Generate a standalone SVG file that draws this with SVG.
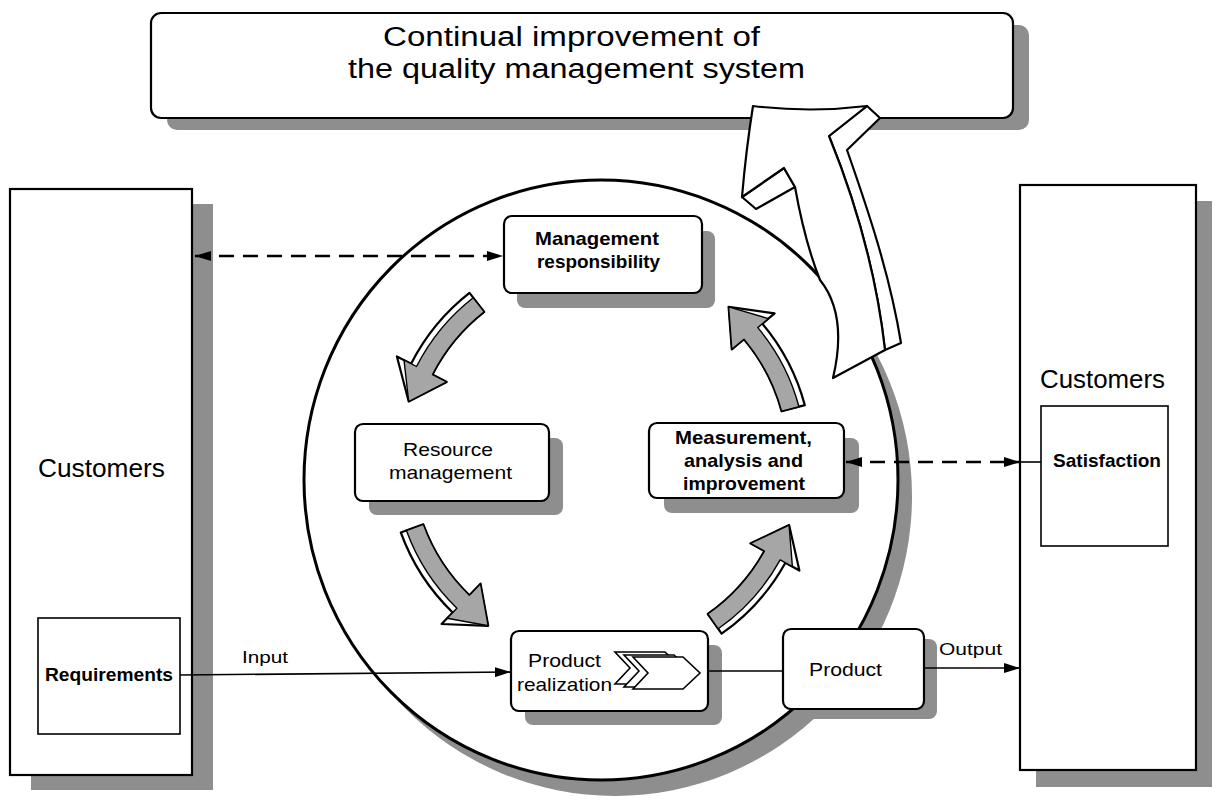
<svg xmlns="http://www.w3.org/2000/svg" width="1216" height="806" viewBox="0 0 1216 806">
<style>
.t{font-family:"Liberation Sans",Arial,Helvetica,sans-serif;fill:#000}
.b{font-weight:bold}
.box{fill:#fff;stroke:#000;stroke-width:2.2}
.thin{fill:#fff;stroke:#000;stroke-width:1.6}
.sh{fill:#8e8e8e}
.lbl{font-size:19px}
.ln{stroke:#000;stroke-width:1.6;fill:none}
.dash{stroke:#000;stroke-width:2.6;fill:none;stroke-dasharray:15 9}
.arw{fill:#fff;stroke:#000;stroke-width:2.2;stroke-linejoin:round}
.arg{fill:#a6a6a6;stroke:#000;stroke-width:1.4;stroke-linejoin:round}
.big{fill:#fff;stroke:#000;stroke-width:2.2;stroke-linejoin:round}
</style>
<defs>
<marker id="ah" viewBox="0 0 16 10" refX="16" refY="5" markerWidth="16" markerHeight="10" markerUnits="userSpaceOnUse" orient="auto-start-reverse">
<path d="M0,0 L16,5 L0,10 Z" fill="#000"/>
</marker>
</defs>

<g id="improvement-box">
<rect class="sh" x="167" y="25" width="862" height="105" rx="10"/>
<rect class="box" x="151" y="13" width="862" height="105" rx="10"/>
<text class="t" x="383" y="46" font-size="27" textLength="377" lengthAdjust="spacingAndGlyphs">Continual improvement of</text>
<text class="t" x="348" y="78" font-size="27" textLength="457" lengthAdjust="spacingAndGlyphs">the quality management system</text>
</g>

<g id="customers-left">
<rect class="sh" x="31" y="204" width="182" height="586"/>
<rect class="box" x="10" y="189" width="182" height="586"/>
<text class="t" x="38" y="477" font-size="25" textLength="127" lengthAdjust="spacingAndGlyphs">Customers</text>
</g>
<g id="requirements">
<rect class="thin" x="38" y="618" width="142" height="116"/>
<text class="t b lbl" x="45" y="681" textLength="128" lengthAdjust="spacingAndGlyphs">Requirements</text>
</g>

<g id="customers-right">
<rect class="sh" x="1036" y="201" width="176" height="586"/>
<rect class="box" x="1020" y="185" width="176" height="585"/>
<text class="t" x="1040" y="388" font-size="25" textLength="125" lengthAdjust="spacingAndGlyphs">Customers</text>
</g>
<g id="satisfaction">
<rect class="thin" x="1041" y="406" width="127" height="140"/>
<text class="t b lbl" x="1053" y="467" textLength="108" lengthAdjust="spacingAndGlyphs">Satisfaction</text>
</g>

<g id="qms-circle">
<ellipse class="sh" cx="615" cy="496" rx="297" ry="300"/>
<ellipse cx="601" cy="480" rx="297" ry="300" fill="#fff" stroke="#000" stroke-width="3"/>
</g>

<g id="management-responsibility">
<rect class="sh" x="517" y="231" width="198" height="77" rx="8"/>
<rect class="box" x="504" y="216" width="198" height="77" rx="8"/>
<text class="t b lbl" x="535" y="245" textLength="124" lengthAdjust="spacingAndGlyphs">Management</text>
<text class="t b lbl" x="537" y="268" textLength="123" lengthAdjust="spacingAndGlyphs">responsibility</text>
</g>

<g id="resource-management">
<rect class="sh" x="369" y="438" width="194" height="77" rx="8"/>
<rect class="box" x="355" y="424" width="194" height="77" rx="8"/>
<text class="t lbl" x="403" y="456" textLength="90" lengthAdjust="spacingAndGlyphs">Resource</text>
<text class="t lbl" x="389" y="479" textLength="123" lengthAdjust="spacingAndGlyphs">management</text>
</g>

<g id="measurement">
<rect class="sh" x="664" y="438" width="195" height="75" rx="8"/>
<rect class="box" x="649" y="423" width="195" height="75" rx="8"/>
<text class="t b lbl" x="675" y="444" textLength="137" lengthAdjust="spacingAndGlyphs">Measurement,</text>
<text class="t b lbl" x="684" y="467" textLength="119" lengthAdjust="spacingAndGlyphs">analysis and</text>
<text class="t b lbl" x="683" y="490" textLength="122" lengthAdjust="spacingAndGlyphs">improvement</text>
</g>

<g id="product-realization">
<rect class="sh" x="525" y="645" width="197" height="80" rx="8"/>
<rect class="box" x="511" y="631" width="197" height="80" rx="8"/>
<text class="t lbl" x="528" y="667" textLength="73" lengthAdjust="spacingAndGlyphs">Product</text>
<text class="t lbl" x="517" y="691" textLength="95" lengthAdjust="spacingAndGlyphs">realization</text>
<path class="thin" d="M615,652 L665,652 L682,668 L665,684 L615,684 L630,668 Z"/>
<path class="thin" d="M624,655 L674,655 L691,671 L674,687 L624,687 L639,671 Z"/>
<path class="thin" d="M633,657 L683,657 L700,673 L683,689 L633,689 L648,673 Z"/>
</g>

<g id="product">
<rect class="sh" x="796" y="639" width="141" height="80" rx="8"/>
<rect class="box" x="783" y="629" width="141" height="80" rx="8"/>
<text class="t lbl" x="809" y="676" textLength="73" lengthAdjust="spacingAndGlyphs">Product</text>
</g>

<g id="connectors">
<path class="arw" d="M469.5,292.9 A212,212 0 0 0 411.1,363.8 L396.9,356.5 L408.7,401.5 L446.7,381.9 L432.5,374.6 A188,188 0 0 1 484.2,311.9 Z"/>
<path class="arg" d="M473.2,297.7 A206,206 0 0 0 416.5,366.5 L404.0,360.1 L408.7,401.5 L446.7,381.9 L432.5,374.6 A188,188 0 0 1 484.2,311.9 Z"/>

<path class="arw" d="M400.8,532.5 A212,212 0 0 0 452.7,612.5 L441.6,624.0 L488.2,625.8 L480.5,583.7 L469.4,595.2 A188,188 0 0 1 423.3,524.3 Z"/>
<path class="arg" d="M406.4,530.5 A206,206 0 0 0 456.9,608.2 L447.2,618.2 L488.2,625.8 L480.5,583.7 L469.4,595.2 A188,188 0 0 1 423.3,524.3 Z"/>

<path class="arw" d="M721.6,633.7 A212,212 0 0 0 785.4,562.8 L799.4,570.5 L789.1,525.1 L750.4,543.4 L764.4,551.1 A188,188 0 0 1 707.8,614.0 Z"/>
<path class="arg" d="M718.2,628.8 A206,206 0 0 0 780.2,559.9 L792.4,566.7 L789.1,525.1 L750.4,543.4 L764.4,551.1 A188,188 0 0 1 707.8,614.0 Z"/>

<path class="arw" d="M804.8,405.1 A212,212 0 0 0 762.4,323.7 L774.6,313.4 L728.6,306.8 L731.8,349.4 L744.0,339.2 A188,188 0 0 1 781.6,411.3 Z"/>
<path class="arg" d="M799.0,406.7 A206,206 0 0 0 757.8,327.6 L768.5,318.6 L728.6,306.8 L731.8,349.4 L744.0,339.2 A188,188 0 0 1 781.6,411.3 Z"/>

<line class="dash" x1="195" y1="256" x2="503" y2="256" marker-start="url(#ah)" marker-end="url(#ah)"/>
<line class="dash" x1="846" y1="462" x2="1020" y2="462" marker-start="url(#ah)" marker-end="url(#ah)"/>
<line class="ln" x1="1020" y1="462" x2="1041" y2="462"/>

<line class="ln" x1="180" y1="675" x2="511" y2="672" marker-end="url(#ah)"/>
<text class="t" x="242" y="663" font-size="17" textLength="46" lengthAdjust="spacingAndGlyphs">Input</text>
<line class="ln" x1="708" y1="671" x2="783" y2="671"/>
<line class="ln" x1="924" y1="668" x2="1020" y2="668" marker-end="url(#ah)"/>
<text class="t" x="939" y="655" font-size="17" textLength="63" lengthAdjust="spacingAndGlyphs">Output</text>

<g id="improvement-arrow">
<path class="big" d="M867,106 L880,118 L847,150 C868,210 890,275 901,343 L885,350 C876,270 855,200 829,136 Z"/>
<path class="big" d="M742,197 L784,168 L795,187 L756,209 Z"/>
<path class="big" d="M753,106 Q810,113 867,106 L829,136 C855,200 876,270 885,350 L833,378 C842,340 840,305 820,280 C808,250 800,215 795,187 L784,168 L742,197 Q746,150 753,106 Z"/>
</g>
</g>
</svg>
